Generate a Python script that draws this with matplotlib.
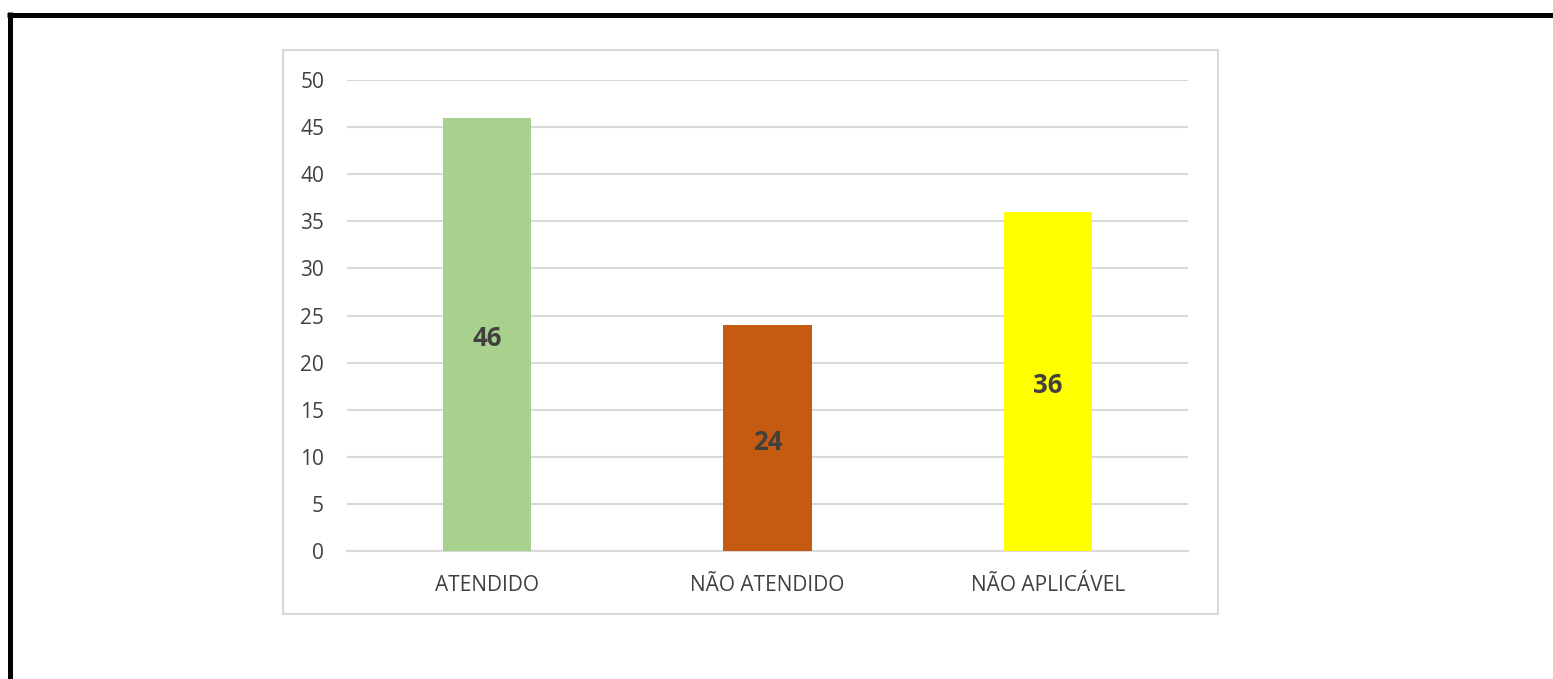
import matplotlib
matplotlib.use("Agg")
import matplotlib.pyplot as plt
from matplotlib.patches import Rectangle
from matplotlib.lines import Line2D

categories = ["ATENDIDO", "NÃO ATENDIDO", "NÃO APLICÁVEL"]
values = [46, 24, 36]
colors = ["#A9D18E", "#C55A11", "#FFFF00"]
yticks = [0, 5, 10, 15, 20, 25, 30, 35, 40, 45, 50]

W, H = 1553, 679
fig = plt.figure(figsize=(W / 100, H / 100), dpi=100)
plt.rcParams['font.family'] = ['Open Sans', 'DejaVu Sans']

# page borders
fig.add_artist(Line2D([7 / W, 1.0], [1 - 14.5 / H, 1 - 14.5 / H], color="black", lw=3.6,
                      solid_capstyle="butt", transform=fig.transFigure))
fig.add_artist(Line2D([9.5 / W, 9.5 / W], [1 - 12 / H, 0], color="black", lw=3.6,
                      solid_capstyle="butt", transform=fig.transFigure))

# chart frame
fig.add_artist(Rectangle((283 / W, 1 - 614 / H), (1218 - 283) / W, (614 - 50) / H,
                         fill=False, edgecolor="#D9D9D9", lw=1.5, transform=fig.transFigure))

ax = fig.add_axes([347 / W, 1 - 551 / H, (1188 - 347) / W, (551 - 80) / H])
x = range(len(categories))
bars = ax.bar(x, values, width=0.314, color=colors, zorder=3)
ax.set_xlim(-0.5, 2.5)
ax.set_ylim(0, 50)
ax.set_yticks(yticks)
ax.set_xticks(list(x))
ax.set_xticklabels(categories)
ax.grid(axis="y", color="#D9D9D9", lw=1.5, zorder=0)
for s in ["top", "right", "left"]:
    ax.spines[s].set_visible(False)
ax.spines["bottom"].set_color("#D9D9D9")
ax.spines["bottom"].set_linewidth(1.5)
ax.tick_params(axis="both", length=0, colors="#404040", labelsize=15)
ax.tick_params(axis="y", pad=16.5)
ax.tick_params(axis="x", pad=17)
ax.set_facecolor("none")

for b, v in zip(bars, values):
    ax.annotate(str(v), xy=(b.get_x() + b.get_width() / 2, v / 2), xytext=(0, -3),
                textcoords="offset points", ha="center", va="center",
                fontsize=18.5, fontweight="bold", color="#404040", zorder=4)

fig.savefig("out.png", dpi=100)
